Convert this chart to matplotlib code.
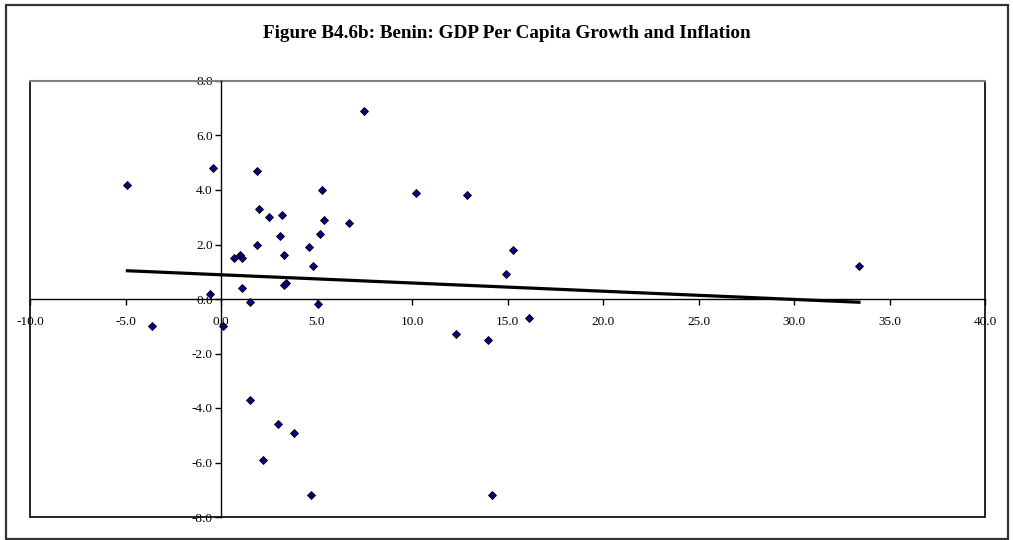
import matplotlib
matplotlib.use("Agg")
import matplotlib.pyplot as plt
from matplotlib.patches import Rectangle
import numpy as np

# inflation (x) vs GDP per capita growth (y)
inflation = [-4.9, -0.4, 1.9, 7.5, 5.3, 2.0, 2.5, 3.2, 5.4, 6.7, 5.2, 3.1, 1.9, 4.6,
             3.3, 1.0, 1.1, 0.7, 4.8, 3.3, 3.4, 1.1, -0.6, 10.2, 12.9, 15.3, 14.9, 33.4,
             1.5, 5.1, -3.6, 0.1, 1.5, 3.0, 3.8, 2.2, 4.7, 12.3, 14.0, 16.1, 14.2]
growth = [4.2, 4.8, 4.7, 6.9, 4.0, 3.3, 3.0, 3.1, 2.9, 2.8, 2.4, 2.3, 2.0, 1.9,
          1.6, 1.6, 1.5, 1.5, 1.2, 0.5, 0.6, 0.4, 0.2, 3.9, 3.8, 1.8, 0.9, 1.2,
          -0.1, -0.2, -1.0, -1.0, -3.7, -4.6, -4.9, -5.9, -7.2, -1.3, -1.5, -0.7, -7.2]
x_ticks = [-10, -5, 0, 5, 10, 15, 20, 25, 30, 35, 40]
y_ticks = [-8, -6, -4, -2, 0, 2, 4, 6, 8]
title = "Figure B4.6b: Benin: GDP Per Capita Growth and Inflation"

plt.rcParams['font.family'] = ['Liberation Serif', 'DejaVu Serif']

fig = plt.figure(figsize=(10.13, 5.40), dpi=100)
# outer chart frame
fig.patches.append(Rectangle((6 / 1013, 1 / 540), 1002 / 1013, 534 / 540, transform=fig.transFigure,
                             fill=False, edgecolor='#333333', linewidth=1.6))
fig.text(0.5, 1 - 34 / 540, title, ha='center', va='center', fontsize=13.8, fontweight='bold')

ax = fig.add_axes([30 / 1013, 23 / 540, 955 / 1013, 436 / 540])
ax.set_xlim(-10, 40)
ax.set_ylim(-8, 8)

for s in ['top', 'right']:
    ax.spines[s].set_visible(False)
ax.spines['left'].set_position(('data', 0))
ax.spines['bottom'].set_position(('data', 0))
ax.spines['left'].set_linewidth(1.0)
ax.spines['bottom'].set_linewidth(1.0)
ax.add_patch(Rectangle((0, 0), 1, 1, transform=ax.transAxes, fill=False,
                       edgecolor='black', linewidth=1.2, clip_on=False))
ax.plot([0, 1], [1, 1], transform=ax.transAxes, color='#808080', linewidth=1.5, clip_on=False)

ax.set_xticks(x_ticks)
ax.set_yticks(y_ticks)
ax.set_xticklabels(["%.1f" % v for v in x_ticks])
ax.set_yticklabels(["%.1f" % v for v in y_ticks])
ax.tick_params(axis='x', direction='out', length=4, width=1, pad=8, labelsize=9.5, colors='black')
ax.tick_params(axis='y', direction='out', length=4, width=1, pad=2, labelsize=9.5, colors='black')

ax.plot(inflation, growth, linestyle='none', marker='D', markersize=4.2,
        markerfacecolor='#000080', markeredgecolor='black', markeredgewidth=0.6, zorder=3)

# linear trend line over the range of the data
k, b = np.polyfit(inflation, growth, 1)
xs = np.array([min(inflation), max(inflation)])
ax.plot(xs, k * xs + b, color='black', linewidth=2.3, zorder=2)

plt.savefig("out.png", dpi=100)
